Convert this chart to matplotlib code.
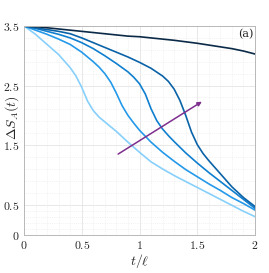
import numpy as np
import matplotlib
matplotlib.use('Agg')
import matplotlib.pyplot as plt

plt.rcParams['mathtext.fontset'] = 'cm'
plt.rcParams['font.family'] = 'DejaVu Serif'

# curve data (t / ell, Delta S_A)
t_a = [0, 0.1, 0.2, 0.3, 0.4, 0.5, 0.6, 0.7, 0.8, 0.9, 1.0, 1.1, 1.2, 1.3, 1.4, 1.5, 1.6, 1.7, 1.8, 1.9, 2.0]
s_a = [3.5, 3.49, 3.47, 3.45, 3.43, 3.41, 3.39, 3.37, 3.35, 3.33, 3.32, 3.30, 3.28, 3.26, 3.235, 3.21, 3.18, 3.15, 3.12, 3.08, 3.03]

t_b = [0, 0.1, 0.2, 0.3, 0.4, 0.5, 0.6, 0.7, 0.8, 0.9, 1.0, 1.1, 1.2, 1.25, 1.3, 1.35, 1.4, 1.45,
       1.5, 1.55, 1.6, 1.7, 1.8, 1.9, 2.0]
s_b = [3.5, 3.47, 3.44, 3.41, 3.37, 3.30, 3.22, 3.14, 3.06, 2.98, 2.89, 2.79, 2.66, 2.57, 2.44, 2.25, 2.00, 1.72,
       1.51, 1.36, 1.24, 1.02, 0.80, 0.62, 0.47]

t_c = [0, 0.1, 0.2, 0.3, 0.4, 0.5, 0.6, 0.7, 0.8, 0.9, 0.95, 1.0, 1.05, 1.1, 1.15, 1.2, 1.25, 1.3,
       1.4, 1.5, 1.6, 1.7, 1.8, 1.9, 2.0]
s_c = [3.5, 3.46, 3.41, 3.36, 3.30, 3.22, 3.12, 3.00, 2.87, 2.73, 2.64, 2.53, 2.36, 2.11, 1.91, 1.77, 1.66, 1.56,
       1.37, 1.20, 1.04, 0.89, 0.74, 0.59, 0.44]

t_d = [0, 0.1, 0.2, 0.3, 0.4, 0.5, 0.6, 0.65, 0.7, 0.75, 0.8, 0.85, 0.9, 0.95, 1.0, 1.1, 1.2, 1.3,
       1.4, 1.5, 1.6, 1.7, 1.8, 1.9, 2.0]
s_d = [3.5, 3.43, 3.36, 3.28, 3.19, 3.06, 2.90, 2.81, 2.70, 2.56, 2.37, 2.16, 2.00, 1.87, 1.75, 1.55, 1.38, 1.23,
       1.09, 0.97, 0.85, 0.74, 0.62, 0.52, 0.41]

t_e = [0, 0.1, 0.2, 0.3, 0.4, 0.45, 0.5, 0.55, 0.6, 0.65, 0.7, 0.75, 0.8, 0.9, 1.0, 1.1, 1.2, 1.3,
       1.4, 1.5, 1.6, 1.7, 1.8, 1.9, 2.0]
s_e = [3.5, 3.36, 3.19, 3.02, 2.80, 2.66, 2.47, 2.24, 2.08, 1.97, 1.89, 1.81, 1.73, 1.55, 1.38, 1.22, 1.10, 0.99,
       0.89, 0.79, 0.69, 0.59, 0.49, 0.39, 0.30]

curves = [(t_e, s_e, '#86d0fb'), (t_d, s_d, '#2499ea'), (t_c, s_c, '#0f7fcf'),
          (t_b, s_b, '#0a63a8'), (t_a, s_a, '#0b2a48')]

arrow_start = (0.815, 1.35)
arrow_end = (1.54, 2.23)

x_ticks = [0, 0.5, 1, 1.5, 2]
x_labels = ['$0$', '$0.5$', '$1$', '$1.5$', '$2$']
y_ticks = [0, 0.5, 1.5, 2.5, 3.5]
y_labels = ['$0$', '$0.5$', '$1.5$', '$2.5$', '$3.5$']
x_minor = [v / 10 for v in range(21) if v % 5]
y_minor = [0.1, 0.2, 0.3, 0.4, 0.7, 0.9, 1.1, 1.3, 1.7, 1.9, 2.1, 2.3, 2.7, 2.9, 3.1, 3.3]

fig = plt.figure(figsize=(2.69, 2.73), dpi=100)
ax = fig.add_axes([24/269, 1-234.5/273, 231/269, 208.5/273])

for t, s, c in curves:
    ax.plot(t, s, color=c, linewidth=1.2, solid_joinstyle='round')

ax.annotate('', xy=arrow_end, xytext=arrow_start,
            arrowprops=dict(arrowstyle='-|>', color='#7e2f8e', lw=1.1,
                            mutation_scale=6, shrinkA=0, shrinkB=0))

ax.set_xlim(0, 2)
ax.set_ylim(0, 3.5)
ax.set_xticks(x_ticks)
ax.set_xticklabels(x_labels)
ax.set_yticks(y_ticks)
ax.set_yticklabels(y_labels)
ax.set_xticks(x_minor, minor=True)
ax.set_yticks(y_minor, minor=True)
ax.grid(True, which='major', color='#e4e4e4', linewidth=0.6)
ax.grid(True, which='minor', color='#e8e8e8', linewidth=0.5, linestyle=':')
ax.set_axisbelow(True)
ax.tick_params(which='both', direction='in', length=0, labelsize=8.5,
               colors='#262626', pad=3)
for sp in ax.spines.values():
    sp.set_color('#b8b8b8')
    sp.set_linewidth(0.7)

ax.set_xlabel(r'$t/\ell$', fontsize=10, color='#262626', labelpad=0)
ax.set_ylabel(r'$\Delta S_A(t)$', fontsize=10, color='#262626',
              va='center', ha='center', rotation_mode='anchor')
ax.yaxis.set_label_coords(-11.5/231, 0.56)
ax.text(0.995, 0.985, '(a)', transform=ax.transAxes, ha='right', va='top',
        fontsize=8, family='DejaVu Serif', math_fontfamily='cm',
        color='#262626')

fig.savefig('out.png', dpi=100)
